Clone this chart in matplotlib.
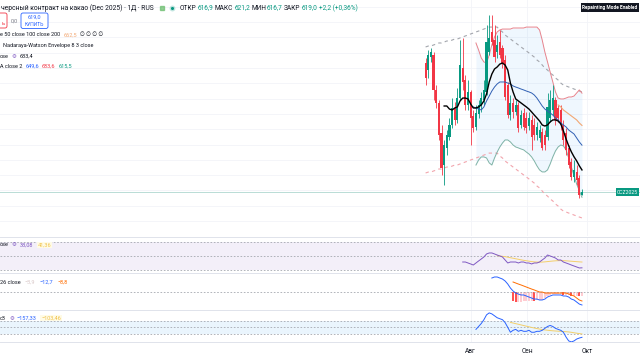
import numpy as np
import matplotlib.pyplot as plt
from matplotlib.patches import FancyBboxPatch

plt.rcParams['font.family'] = ['Roboto', 'DejaVu Sans']

# daily bars of CCZ2025, 8 Jul .. 30 Sep 2025 (index 0 .. 59)
opens = [703.3, 698.7, 707.2, 708.5, 685.7, 677.2, 657.6, 636.6, 647.8, 654.9,
         662.8, 673.9, 666.1, 680.4, 700.0, 692.2, 675.9, 684.4, 668.7, 661.5,
         670.0, 675.2, 679.1, 684.4, 710.5, 723.6, 718.3, 710.5, 717.0, 713.1,
         705.3, 688.9, 669.3, 677.2, 671.3, 675.9, 662.8, 670.6, 667.4, 662.1,
         666.1, 662.8, 656.3, 654.3, 658.2, 656.3, 654.9, 667.4, 672.6, 679.1,
         673.9, 672.6, 662.8, 657.6, 647.8, 638.6, 628.8, 632.1, 628.2, 616.9]
highs = [706.6, 711.8, 713.1, 710.5, 688.9, 679.1, 662.8, 653.0, 659.5, 667.4,
         680.4, 677.8, 687.0, 718.3, 719.7, 695.5, 692.2, 685.7, 672.6, 675.9,
         679.1, 684.4, 692.2, 728.2, 734.7, 734.7, 728.2, 721.6, 724.9, 715.1,
         708.5, 690.9, 682.4, 680.4, 679.1, 677.8, 672.6, 673.9, 671.3, 671.3,
         669.3, 667.4, 664.8, 662.8, 660.8, 659.5, 683.7, 685.7, 688.9, 681.1,
         675.9, 675.9, 666.1, 660.8, 649.7, 641.2, 639.9, 636.6, 630.1, 621.2]
lows = [688.9, 693.5, 704.0, 679.1, 673.9, 653.0, 630.1, 623.6, 643.2, 653.0,
        660.8, 662.8, 664.1, 679.1, 685.7, 672.6, 672.6, 649.7, 658.2, 659.5,
        667.4, 671.3, 675.9, 682.4, 708.5, 715.1, 704.0, 706.6, 706.6, 700.0,
        679.1, 667.4, 666.1, 667.4, 669.3, 658.2, 660.8, 659.5, 657.6, 659.5,
        646.5, 653.0, 653.0, 651.7, 646.5, 646.5, 653.0, 664.8, 669.3, 662.8,
        664.8, 659.5, 649.7, 643.2, 634.7, 626.8, 625.5, 623.6, 615.1, 616.7]
closes = [693.5, 708.5, 710.5, 685.7, 677.2, 656.3, 634.7, 649.7, 656.3, 662.8,
          673.9, 666.1, 680.4, 702.0, 690.9, 675.9, 684.4, 667.4, 660.8, 670.6,
          675.9, 680.4, 685.7, 717.0, 719.7, 717.0, 707.2, 715.1, 708.5, 703.3,
          681.1, 669.3, 677.2, 671.3, 675.9, 660.8, 669.3, 661.5, 660.8, 667.4,
          654.9, 656.3, 661.5, 659.5, 647.8, 649.7, 674.6, 679.1, 680.4, 666.1,
          667.4, 662.8, 653.0, 646.5, 636.6, 628.8, 633.4, 626.8, 616.8, 619.0]

# overlays: (first bar index, values)
ma_black = (7, [675.2, 675.2, 673.2, 672.6, 673.9, 674.6, 678.5, 680.4, 680.4, 679.8,
                676.5, 673.9, 673.9, 674.6, 675.9, 678.5, 683.1, 690.9, 696.1, 699.4,
                700.7, 702.6, 703.3, 702.0, 698.7, 690.2, 684.4, 679.8, 678.5, 677.2,
                675.9, 674.6, 673.2, 671.3, 669.3, 667.4, 665.4, 662.8, 662.1, 662.8,
                664.8, 666.1, 666.1, 665.4, 663.5, 658.9, 653.7, 649.1, 645.2, 642.0,
                639.3, 636.1, 633.4])
ma_orange = (50, [675.9, 674.6, 672.6, 671.3, 670.0, 668.7, 667.4, 666.1, 664.1, 662.5])
bb_basis = (18, [674.6, 673.9, 673.2, 672.6, 674.6, 678.5, 681.7, 685.0, 687.6, 689.6,
                 690.9, 690.9, 690.9, 690.2, 689.6, 688.3, 687.6, 687.0, 686.3, 685.7,
                 685.0, 684.4, 683.7, 682.4, 680.4, 677.8, 675.2, 673.2, 671.9, 670.6,
                 669.3, 667.4, 666.1, 664.1, 662.8, 661.5, 659.5, 658.2, 656.9, 654.3,
                 651.7, 649.6])
bb_upper = (19, [716.4, 711.8, 706.6, 704.0, 703.3, 708.5, 715.1, 720.3, 723.6, 724.9,
                 725.5, 725.5, 725.5, 725.5, 726.2, 726.2, 726.2, 726.2, 726.2, 726.8,
                 726.8, 726.8, 726.8, 726.8, 724.9, 718.3, 710.5, 704.0, 697.4, 690.9,
                 684.4, 680.4, 679.8, 679.8, 680.4, 681.1, 681.1, 681.7, 683.7, 685.7,
                 683.6])
bb_lower = (19, [636.6, 639.9, 641.9, 641.9, 641.2, 638.0, 636.6, 641.2, 645.1, 648.4,
                 651.0, 653.0, 653.0, 651.7, 649.7, 648.4, 647.8, 647.1, 646.5, 645.1,
                 643.8, 641.9, 639.3, 636.1, 633.4, 632.1, 632.1, 633.4, 637.3, 641.9,
                 645.8, 648.4, 649.7, 649.1, 646.5, 641.2, 635.3, 629.5, 624.2, 619.7,
                 615.5])
nw_upper = (0, [713.8, 714.4, 714.4, 715.1, 715.7, 716.4, 716.4, 717.0, 717.7, 717.7,
                718.3, 719.0, 719.0, 719.7, 720.3, 721.0, 721.6, 722.3, 722.9, 723.6,
                724.2, 724.9, 725.5, 726.2, 726.8, 726.8, 726.8, 726.8, 724.9, 723.6,
                721.6, 720.3, 719.0, 717.7, 716.4, 715.1, 713.8, 712.5, 711.2, 709.9,
                708.5, 707.2, 705.3, 704.0, 702.0, 700.0, 698.7, 696.8, 695.5, 693.5,
                692.2, 690.2, 688.9, 688.3, 687.6, 687.0, 686.3, 685.7, 685.0, 684.4])
nw_lower = (0, [631.4, 632.0, 632.0, 632.7, 633.3, 634.0, 634.0, 634.6, 635.3, 635.3,
                635.9, 636.6, 636.6, 637.3, 637.9, 638.6, 639.2, 639.9, 640.5, 641.2,
                641.8, 642.5, 643.1, 643.8, 644.4, 644.4, 644.4, 644.4, 642.5, 641.2,
                639.2, 637.9, 636.6, 635.3, 634.0, 632.7, 631.4, 630.1, 628.8, 627.5,
                626.1, 624.8, 622.9, 621.6, 619.6, 617.6, 616.3, 614.4, 613.1, 611.1,
                609.8, 607.8, 606.5, 605.9, 605.2, 604.6, 603.9, 603.3, 602.6, 602.0])

rsi = (14, [41.4, 41.4, 40.0, 38.6, 37.1, 40.0, 42.9, 45.7, 48.6, 52.9,
            54.3, 54.3, 52.9, 51.4, 50.0, 48.6, 44.3, 40.0, 41.4, 41.4,
            41.4, 40.0, 41.4, 41.4, 40.0, 40.0, 38.6, 40.0, 40.0, 41.4,
            44.3, 47.1, 51.4, 50.0, 48.6, 47.1, 44.3, 44.3, 41.4, 40.0,
            38.6, 37.1, 35.7, 34.3, 32.9, 33.08])
rsi_ma = (27, [50.5, 50.0, 49.5, 49.0, 48.3, 47.5, 46.8, 46.0, 45.3, 44.5,
               43.8, 43.2, 42.6, 42.0, 41.6, 41.3, 41.2, 41.3, 41.6, 42.0,
               42.4, 42.8, 43.1, 43.3, 43.4, 43.3, 43.1, 42.8, 42.5, 42.2,
               41.9, 41.6, 41.36])
macd = (25, [13.7, 14.7, 14.7, 13.7, 12.7, 10.8, 7.8, 3.9, 1.0, -1.0,
             -2.0, -2.9, -2.9, -3.9, -4.9, -5.9, -6.9, -6.9, -7.8, -7.8,
             -6.9, -4.9, -3.9, -2.9, -2.9, -2.9, -2.9, -3.9, -3.9, -4.9,
             -6.9, -7.8, -9.8, -11.8, -12.7])
signal = (33, [9.8, 8.8, 7.8, 6.9, 5.9, 4.9, 3.9, 2.9, 2.0, 1.0,
               0.0, 0.0, -1.0, -1.0, -1.0, -1.0, -1.0, -1.0, -1.0, -1.0,
               -1.0, -2.0, -2.9, -3.9, -5.9, -7.8, -8.8])
hist = (33, [-8.8, -9.8, -9.8, -9.8, -8.8, -8.8, -8.8, -8.8, -8.9, -7.9,
             -7.8, -7.8, -5.9, -3.9, -2.9, -1.9, -1.9, -1.9, -1.9, -2.9,
             -2.9, -2.9, -4.0, -3.9, -3.9, -4.0, -3.9])
cci = (19, [-31, 15, 62, 123, 200, 231, 215, 185, 154, 138,
            123, 77, 0, -77, -46, -31, -62, -46, -62, -62,
            -46, -77, -77, -62, -62, -46, -15, 15, 31, 15,
            -15, -31, -46, -77, -154, -215, -231, -215, -185, -169,
            -157.33])
cci_ma = (32, [80, 70, 60, 50, 40, 30, 20, 10, 0, -10,
               -18, -26, -34, -40, -45, -50, -54, -57, -60, -62,
               -65, -68, -72, -78, -85, -92, -98, -103.46])

month_pos = [17, 38.3, 61]
month_lbl = ['Авг', 'Сен', 'Окт']

GREEN, RED = '#089981', '#f23645'
DARK = '#131722'
SEP = '#e0e3eb'
GRIDC = '#f2f4f8'
XL = (-160.6, 80.9)

fig = plt.figure(figsize=(6.4, 3.6), dpi=100)


def pane(top, bottom):
    a = fig.add_axes([0, 1 - bottom / 360, 1, (bottom - top) / 360])
    a.set_xlim(*XL)
    a.set_xticks([])
    a.set_yticks([])
    for s in a.spines.values():
        s.set_visible(False)
    for m in month_pos:
        a.axvline(m, color=GRIDC, lw=0.6, zorder=0)
    return a


def seg(series):
    start, vals = series
    return np.arange(start, start + len(vals)), np.array(vals, dtype=float)


# ---- main price pane
ax = pane(0, 236)
ax.set_ylim(590.2, 744.5)
for g in range(600, 745, 10):
    ax.axhline(g, color=GRIDC, lw=0.6, zorder=0)

x_u, v_u = seg(bb_upper)
x_l, v_l = seg(bb_lower)
ax.fill_between(x_u, v_l, v_u, color='#2196f3', alpha=0.07, lw=0, zorder=1)

o, h, l, c = map(np.array, (opens, highs, lows, closes))
idx = np.arange(len(c))
col = np.where(c >= o, GREEN, RED)
ax.vlines(idx, l, h, colors=col, lw=0.6, zorder=3)
ax.bar(idx, np.maximum(np.abs(c - o), 0.4), bottom=np.minimum(o, c), width=0.8,
       color=col, lw=0, zorder=3)

ax.plot(*seg(nw_upper), color='#a3a6ad', lw=0.8, ls=(0, (3, 3)), zorder=2)
ax.plot(*seg(nw_lower), color='#f2a5ad', lw=0.8, ls=(0, (3, 3)), zorder=2)
ax.plot(x_u, v_u, color='#e8838c', lw=0.7, zorder=2)
ax.plot(x_l, v_l, color='#7fb3a6', lw=0.7, zorder=2)
ax.plot(*seg(bb_basis), color='#2f5fb3', lw=0.7, zorder=4)
ax.plot(*seg(ma_orange), color='#f2a772', lw=0.8, zorder=4)
ax.plot(*seg(ma_black), color='black', lw=1.0, zorder=5)
ax.axhline(closes[-1], color='#b9dcd6', lw=0.7, zorder=1)

# ---- RSI pane
ar = pane(237, 273)
ar.set_ylim(25.7, 77.1)
ar.axhspan(30, 70, color='#7e57c2', alpha=0.09, lw=0)
for lv in (30, 50, 70):
    ar.axhline(lv, color='#a5a8b0', lw=0.6, ls=(0, (2, 2)))
ar.plot(*seg(rsi_ma), color='#f3cf6a', lw=0.7)
ar.plot(*seg(rsi), color='#7e57c2', lw=0.7)

# ---- MACD pane
am = pane(273, 310)
am.set_ylim(-17.6, 18.6)
am.axhline(0, color='#a5a8b0', lw=0.6, ls=(0, (2, 2)))
xh, vh = seg(hist)
prev = np.concatenate([[0.0], vh[:-1]])
hcol = np.where(vh < prev, '#ff5252', '#ffcdd2')
am.bar(xh, vh, width=0.8, color=hcol, lw=0)
am.plot(*seg(macd), color='#2962ff', lw=0.7)
am.plot(*seg(signal), color='#ff6d00', lw=0.7)

# ---- CCI pane
ac = pane(310, 342)
ac.set_ylim(-232, 277)
ac.axhspan(-100, 100, color='#2196f3', alpha=0.09, lw=0)
for lv in (-100, 0, 100):
    ac.axhline(lv, color='#a5a8b0', lw=0.6, ls=(0, (2, 2)))
ac.plot(*seg(cci_ma), color='#f3cf6a', lw=0.7)
ac.plot(*seg(cci), color='#2962ff', lw=0.7)
ac.set_xticks(month_pos)
ac.set_xticklabels(month_lbl, fontsize=4.8, color=DARK)
ac.tick_params(axis='x', length=0, pad=4)

for a in (ar, am, ac):
    a.spines['top'].set_visible(True)
    a.spines['top'].set_color(SEP)
    a.spines['top'].set_linewidth(0.7)
ac.spines['bottom'].set_visible(True)
ac.spines['bottom'].set_color(SEP)
ac.spines['bottom'].set_linewidth(0.7)

# ---- overlay for legends / header (pixel coords)
ov = fig.add_axes([0, 0, 1, 1], zorder=10)
ov.set_xlim(0, 640)
ov.set_ylim(360, 0)
ov.axis('off')
ov.patch.set_alpha(0)


def chain(x, y, parts, size=4.0, gap=2.2):
    prev = None
    for txt, color in parts:
        if prev is None:
            prev = ov.text(x, y, txt, color=color, fontsize=size, va='center')
        else:
            prev = ov.annotate(txt, xy=(1, 0.5), xycoords=prev, xytext=(gap, 0),
                               textcoords='offset points', color=color,
                               fontsize=size, va='center')
    return prev


ov.text(1, 8, 'черсный контракт на какао (Dec 2025) · 1Д · RUS', fontsize=4.9,
        color=DARK, va='center')
ov.plot(162, 8, marker='s', ms=2.6, color='#66bb6a', alpha=0.7)
ov.plot(172, 8, marker='o', ms=4.2, color=GREEN, alpha=0.25, mec='none')
ov.plot(172, 8, marker='o', ms=2.2, color=GREEN, mec='none')
chain(180, 8, [('ОТКР', DARK), ('616,9', GREEN), ('МАКС', DARK), ('621,2', GREEN),
               ('МИН', DARK), ('616,7', GREEN), ('ЗАКР', DARK), ('619,0', GREEN),
               ('+2,2 (+0,36%)', GREEN)], size=4.7, gap=0.8)

ov.add_patch(FancyBboxPatch((-4, 13), 11, 15, boxstyle='round,pad=0,rounding_size=2',
                            fc='white', ec=RED, lw=0.6))
ov.text(1.5, 23.5, 'ь', fontsize=4.2, color=RED, va='center')
ov.text(11, 21, '0,0', fontsize=4.0, color='#787b86', va='center')
ov.add_patch(FancyBboxPatch((21, 13), 27, 15.5, boxstyle='round,pad=0,rounding_size=2',
                            fc='white', ec='#2962ff', lw=0.6))
ov.text(34.5, 17.5, '619,0', fontsize=4.0, color='#2962ff', ha='center', va='center')
ov.text(34.5, 24.5, 'КУПИТЬ', fontsize=3.6, color='#2962ff', ha='center', va='center')

chain(0, 35, [('e 50 close 100 close 200', DARK), ('662,5', '#f2a772'),
              ('∅ ∅ ∅ ∅', DARK)])
ov.text(3, 46, 'Nadaraya-Watson Envelope 8 3 close', fontsize=4.0, color=DARK, va='center')
chain(0, 56, [('ose', DARK), ('⚙', '#7e57c2'), ('633,4', DARK)])
chain(0, 66, [('A close 2', DARK), ('649,6', '#2962ff'), ('683,6', RED), ('615,5', GREEN)])

last = chain(0, 245, [('ose', DARK), ('⚙', '#7e57c2'), ('33,08', '#7e57c2')])
ov.annotate('41,36', xy=(1, 0.5), xycoords=last, xytext=(3, 0), textcoords='offset points',
            color='#f0c24b', fontsize=4.0, va='center',
            bbox=dict(boxstyle='square,pad=0.15', fc='#fffbe6', ec='none'))
chain(0, 282, [('26 close', DARK), ('−3,9', '#d9c8c8'), ('−12,7', '#2962ff'),
               ('−8,8', '#ff6d00')], gap=3)
last = chain(0, 318, [('c3', DARK), ('⚙', '#7e57c2'), ('−157,33', '#2962ff')])
ov.annotate('−103,46', xy=(1, 0.5), xycoords=last, xytext=(3, 0), textcoords='offset points',
            color='#f0c24b', fontsize=4.0, va='center',
            bbox=dict(boxstyle='square,pad=0.15', fc='#fffbe6', ec='none'))

ov.text(610, 7.5, 'Repainting Mode Enabled', fontsize=3.5, color='white', weight='bold',
        ha='center', va='center',
        bbox=dict(boxstyle='square,pad=0.35', fc=DARK, ec='none'))
ov.text(617, 192, 'CCZ2025', fontsize=3.7, color='white', va='center',
        bbox=dict(boxstyle='square,pad=0.25', fc=GREEN, ec='none'))

fig.savefig('out.png', dpi=100)
